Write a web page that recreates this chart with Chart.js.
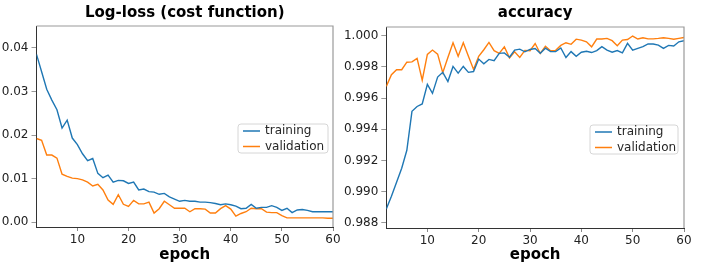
<!DOCTYPE html>
<html>
<head>
<meta charset="utf-8">
<script src="https://cdn.jsdelivr.net/npm/chart.js@4.4.0/dist/chart.umd.min.js"></script>
<style>
  html, body { margin: 0; padding: 0; background: #fff; }
  #wrap { position: relative; width: 706px; height: 268px; overflow: hidden; }
  canvas { position: absolute; top: 0; }
</style>
</head>
<body>
<div id="wrap">
  <canvas id="lossChart" width="345" height="268" style="left:0px"></canvas>
  <canvas id="accChart" width="366" height="268" style="left:340px"></canvas>
</div>
<script>
// epochs on the x axis
const epochs = [2, 3, 4, 5, 6, 7, 8, 9, 10, 11, 12, 13, 14, 15, 16, 17, 18, 19, 20, 21,
  22, 23, 24, 25, 26, 27, 28, 29, 30, 31, 32, 33, 34, 35, 36, 37, 38, 39, 40, 41,
  42, 43, 44, 45, 46, 47, 48, 49, 50, 51, 52, 53, 54, 55, 56, 57, 58, 59, 60];

// log-loss values
const trainLoss = [0.0385, 0.0345, 0.0305, 0.0280, 0.0258, 0.0216, 0.0234, 0.0193, 0.0178, 0.0157,
  0.0141, 0.0146, 0.0112, 0.0102, 0.0108, 0.0092, 0.0096, 0.0095, 0.0089, 0.0092,
  0.0074, 0.0076, 0.0070, 0.0069, 0.0064, 0.0066, 0.0058, 0.0053, 0.0048, 0.0050,
  0.0048, 0.0048, 0.0046, 0.0046, 0.0045, 0.0043, 0.0040, 0.0042, 0.0040, 0.0037,
  0.0031, 0.0032, 0.0041, 0.0032, 0.0034, 0.0034, 0.0038, 0.0034, 0.0027, 0.0032,
  0.0022, 0.0028, 0.0029, 0.0027, 0.0024, 0.0024, 0.0024, 0.0024, 0.0024];
const valLoss = [0.0192, 0.0188, 0.0154, 0.0154, 0.0147, 0.0110, 0.0105, 0.0101, 0.0100, 0.0097,
  0.0092, 0.0083, 0.0087, 0.0074, 0.0051, 0.0041, 0.0063, 0.0041, 0.0036, 0.0050,
  0.0042, 0.0042, 0.0046, 0.0021, 0.0031, 0.0048, 0.0040, 0.0032, 0.0032, 0.0032,
  0.0024, 0.0031, 0.0031, 0.0030, 0.0021, 0.0021, 0.0031, 0.0038, 0.0030, 0.0014,
  0.0020, 0.0024, 0.0032, 0.0031, 0.0031, 0.0023, 0.0022, 0.0022, 0.0015, 0.0010,
  0.0010, 0.0010, 0.0010, 0.0010, 0.0010, 0.0010, 0.0010, 0.0009, 0.0009];

// accuracy values
const trainAcc = [0.98888, 0.98970, 0.99060, 0.99150, 0.99265, 0.99515, 0.99546, 0.99562, 0.99688, 0.99630,
  0.99735, 0.99765, 0.99706, 0.99803, 0.99760, 0.99803, 0.99765, 0.99770, 0.99850, 0.99820,
  0.99848, 0.99840, 0.99887, 0.99890, 0.99862, 0.99908, 0.99914, 0.99897, 0.99912, 0.99918,
  0.99888, 0.99920, 0.99898, 0.99898, 0.99921, 0.99860, 0.99898, 0.99868, 0.99894, 0.99900,
  0.99892, 0.99905, 0.99930, 0.99908, 0.99894, 0.99905, 0.99890, 0.99951, 0.99908, 0.99919,
  0.99930, 0.99947, 0.99947, 0.99940, 0.99919, 0.99938, 0.99934, 0.99961, 0.99968];
const valAcc = [0.99675, 0.99750, 0.99782, 0.99782, 0.99830, 0.99832, 0.99855, 0.99715, 0.99880, 0.99908,
  0.99882, 0.99763, 0.99860, 0.99955, 0.99868, 0.99955, 0.99868, 0.99784, 0.99868, 0.99910,
  0.99957, 0.99904, 0.99887, 0.99929, 0.99858, 0.99897, 0.99861, 0.99906, 0.99904, 0.99950,
  0.99886, 0.99932, 0.99904, 0.99906, 0.99938, 0.99955, 0.99945, 0.99978, 0.99972, 0.99961,
  0.99929, 0.99979, 0.99979, 0.99983, 0.99968, 0.99936, 0.99972, 0.99976, 0.99998, 0.99979,
  0.99987, 0.99980, 0.99980, 0.99983, 0.99987, 0.99983, 0.99977, 0.99983, 0.99989];

// tick labels
const xTicks = [10, 20, 30, 40, 50, 60];
const lossTicks = [0.00, 0.01, 0.02, 0.03, 0.04];
const accTicks = [0.988, 0.990, 0.992, 0.994, 0.996, 0.998, 1.000];

const FONT = "'DejaVu Sans', sans-serif";
const BLUE = '#1f77b4';
const ORANGE = '#ff7f0e';

// light frame on top/right + matplotlib style legend box
const framePlugin = {
  id: 'frameAndLegend',
  afterDatasetsDraw(chart, args, opts) {
    const { ctx, chartArea: a } = chart;
    ctx.save();
    ctx.strokeStyle = '#9a9a9a';
    ctx.lineWidth = 1.2;
    ctx.beginPath();
    ctx.moveTo(a.left, a.top);
    ctx.lineTo(a.right, a.top);
    ctx.lineTo(a.right, a.bottom);
    ctx.stroke();

    // legend
    const w = opts.width, h = 29;
    const x = a.right - opts.right - w, y = opts.top;
    ctx.beginPath();
    ctx.roundRect(x, y, w, h, 3);
    ctx.fillStyle = 'rgba(255,255,255,0.8)';
    ctx.fill();
    ctx.strokeStyle = '#d6d6d6';
    ctx.lineWidth = 1;
    ctx.stroke();
    ctx.font = '12px ' + FONT;
    ctx.textBaseline = 'middle';
    ctx.fillStyle = '#262626';
    chart.data.datasets.forEach((ds, i) => {
      const ry = y + 7 + i * 15.5;
      ctx.strokeStyle = ds.borderColor;
      ctx.lineWidth = 1.5;
      ctx.beginPath();
      ctx.moveTo(x + 5, ry);
      ctx.lineTo(x + 22, ry);
      ctx.stroke();
      ctx.fillText(ds.label, x + 27, ry);
    });
    ctx.restore();
  }
};

function makeChart(id, title, train, val, yMin, yMax, yTicks, decimals, yWidth, padRight, titlePad, xHeight, legendOpts) {
  const ctx = document.getElementById(id).getContext('2d');
  return new Chart(ctx, {
    type: 'line',
    data: {
      labels: epochs,
      datasets: [
        { label: 'training', data: train, borderColor: BLUE, borderWidth: 1.4, pointRadius: 0, tension: 0, fill: false },
        { label: 'validation', data: val, borderColor: ORANGE, borderWidth: 1.4, pointRadius: 0, tension: 0, fill: false }
      ]
    },
    options: {
      responsive: false,
      animation: false,
      devicePixelRatio: 1,
      layout: { padding: { left: 0, right: padRight, top: 0, bottom: 0 } },
      plugins: {
        legend: { display: false },
        tooltip: { enabled: false },
        title: {
          display: true,
          text: title,
          fullSize: false,
          color: '#000',
          font: { family: FONT, size: 15, weight: 'bold' },
          padding: titlePad
        },
        frameAndLegend: legendOpts
      },
      scales: {
        x: {
          type: 'linear',
          min: 2,
          max: 60,
          afterBuildTicks: s => { s.ticks = xTicks.map(v => ({ value: v })); },
          afterFit: s => { s.height = xHeight; },
          grid: { drawOnChartArea: false, tickLength: 4, color: '#888' },
          border: { display: true, color: '#333', width: 1 },
          ticks: { color: '#222', font: { family: FONT, size: 12 }, padding: 2, maxRotation: 0 },
          title: {
            display: true,
            text: 'epoch',
            color: '#000',
            font: { family: FONT, size: 15, weight: 'bold' },
            padding: { top: 0, bottom: 4 }
          }
        },
        y: {
          min: yMin,
          max: yMax,
          afterBuildTicks: s => { s.ticks = yTicks.map(v => ({ value: v })); },
          afterFit: s => { s.width = yWidth; },
          grid: { drawOnChartArea: false, tickLength: 5, color: '#999' },
          border: { display: true, color: '#333', width: 1 },
          ticks: {
            color: '#222',
            font: { family: FONT, size: 12 },
            padding: 3,
            callback: v => Number(v).toFixed(decimals)
          }
        }
      }
    },
    plugins: [framePlugin]
  });
}

makeChart('lossChart', 'Log-loss (cost function)', trainLoss, valLoss,
  -0.0011, 0.045, lossTicks, 2, 36.5, 12, { top: 4, bottom: 4 }, 41,
  { width: 90, right: 5, top: 124 });

makeChart('accChart', 'accuracy', trainAcc, valAcc,
  0.98766, 1.00056, accTicks, 3, 46.3, 22, { top: 4, bottom: 5 }, 40,
  { width: 88, right: 6, top: 125 });
</script>
</body>
</html>
